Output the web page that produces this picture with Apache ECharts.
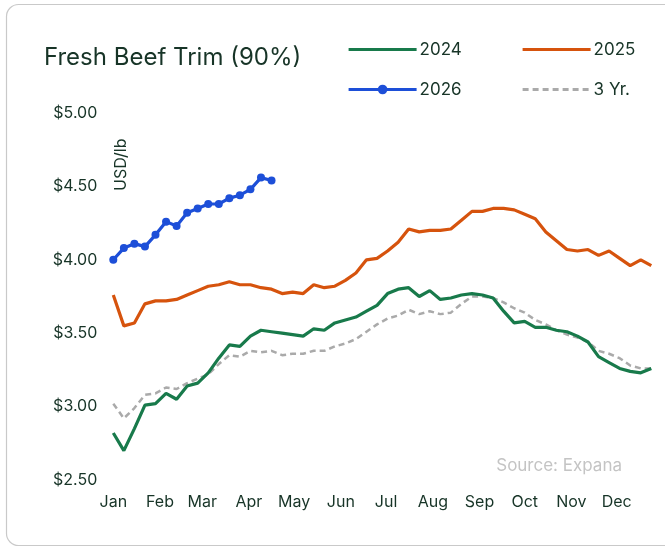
<!DOCTYPE html>
<html lang="en">
<head>
    <meta charset="UTF-8">
    <script src="https://cdn.jsdelivr.net/npm/echarts@6/dist/echarts.min.js"></script>
    <title>Fresh Beef Trim (90%)</title>
    <style>
        html, body { margin: 0; padding: 0; background: #fff; }
        #chart { width: 665px; height: 548px; }
    </style>
</head>
<body>
<div id="chart"></div>
<script>
    // month labels and the day of year each month starts on
    var months = ['Jan', 'Feb', 'Mar', 'Apr', 'May', 'Jun', 'Jul', 'Aug', 'Sep', 'Oct', 'Nov', 'Dec'];
    var monthStartDay = [0, 31, 59, 90, 120, 151, 181, 212, 243, 273, 304, 334];
    var yTicks = [2.5, 3.0, 3.5, 4.0, 4.5, 5.0];

    // weekly prices, USD/lb
    var y2024 = [2.82, 2.70, 2.85, 3.01, 3.02, 3.09, 3.05, 3.14, 3.16, 3.23, 3.33, 3.42, 3.41,
        3.48, 3.52, 3.51, 3.50, 3.49, 3.48, 3.53, 3.52, 3.57, 3.59, 3.61, 3.65, 3.69,
        3.77, 3.80, 3.81, 3.75, 3.79, 3.73, 3.74, 3.76, 3.77, 3.76, 3.74, 3.65, 3.57,
        3.58, 3.54, 3.54, 3.52, 3.51, 3.48, 3.44, 3.34, 3.30, 3.26, 3.24, 3.23, 3.26];
    var y2025 = [3.76, 3.55, 3.57, 3.70, 3.72, 3.72, 3.73, 3.76, 3.79, 3.82, 3.83, 3.85, 3.83,
        3.83, 3.81, 3.80, 3.77, 3.78, 3.77, 3.83, 3.81, 3.82, 3.86, 3.91, 4.00, 4.01,
        4.06, 4.12, 4.21, 4.19, 4.20, 4.20, 4.21, 4.27, 4.33, 4.33, 4.35, 4.35, 4.34,
        4.31, 4.28, 4.19, 4.13, 4.07, 4.06, 4.07, 4.03, 4.06, 4.01, 3.96, 4.00, 3.96];
    var y2026 = [4.00, 4.08, 4.11, 4.09, 4.17, 4.26, 4.23, 4.32, 4.35, 4.38, 4.38, 4.42, 4.44,
        4.48, 4.56, 4.54];
    var y3yr = [3.02, 2.92, 2.99, 3.08, 3.09, 3.13, 3.12, 3.16, 3.19, 3.22, 3.29, 3.35, 3.34,
        3.38, 3.37, 3.38, 3.35, 3.36, 3.36, 3.38, 3.38, 3.41, 3.43, 3.46, 3.51, 3.56,
        3.60, 3.62, 3.66, 3.63, 3.65, 3.63, 3.64, 3.70, 3.75, 3.75, 3.74, 3.71, 3.67,
        3.64, 3.59, 3.56, 3.52, 3.49, 3.47, 3.44, 3.38, 3.36, 3.33, 3.28, 3.26, 3.26];

    var textColor = '#173427';
    var font = 'Inter, "Noto Sans", sans-serif';

    // week index -> [week, value]
    function toPoints(arr) {
        return arr.map(function (v, i) { return [i, v]; });
    }

    var monthTicks = monthStartDay.map(function (d) { return d / 7; });

    var myChart = echarts.init(document.getElementById('chart'), null, { renderer: 'canvas' });

    // one legend per entry so each sits where the original has it
    function legendItem(name, left, top, showDot) {
        return {
            data: [name],
            left: left,
            top: top,
            itemWidth: 68,
            itemHeight: 12,
            itemGap: 0,
            selectedMode: false,
            lineStyle: { width: 3.2 },
            itemStyle: showDot ? {} : { opacity: 0 },
            textStyle: { color: textColor, fontSize: 17, fontFamily: font, padding: [0, 0, 0, -2] }
        };
    }

    var option = {
        backgroundColor: '#fff',
        animation: false,
        textStyle: { fontFamily: font },
        graphic: [
            {
                type: 'rect',
                shape: { x: 6.5, y: 4.5, width: 700, height: 541, r: 12 },
                style: { fill: 'none', stroke: '#c9c9c9', lineWidth: 1.2 },
                silent: true
            },
            {
                type: 'text',
                left: 44, top: 46,
                style: { text: 'Fresh Beef Trim (90%)', fill: textColor, font: '24px ' + font }
            },
            {
                type: 'text',
                x: 113, y: 191, rotation: Math.PI / 2,
                style: { text: 'USD/lb', fill: textColor, font: '16px ' + font }
            },
            {
                type: 'text',
                right: 43, top: 457,
                style: { text: 'Source: Expana', fill: '#c4c4c4', font: '17px ' + font }
            }
        ],
        legend: [
            legendItem('2024', 342, 36, false),
            legendItem('2025', 516, 36, false),
            legendItem('2026', 342, 76, true),
            legendItem('3 Yr.', 516, 76, false)
        ],
        grid: { left: 113.3, right: 13.7, top: 113, bottom: 68 },
        xAxis: {
            type: 'value',
            min: 0,
            max: 51,
            axisLine: { show: false },
            axisTick: { show: false },
            splitLine: { show: false },
            axisLabel: {
                customValues: monthTicks,
                color: textColor,
                fontSize: 16,
                fontFamily: font,
                margin: 14,
                formatter: function (v) {
                    var best = 0;
                    monthTicks.forEach(function (t, i) {
                        if (Math.abs(t - v) < Math.abs(monthTicks[best] - v)) best = i;
                    });
                    return months[best];
                }
            }
        },
        yAxis: {
            type: 'value',
            min: yTicks[0],
            max: yTicks[yTicks.length - 1],
            interval: 0.5,
            axisLine: { show: false },
            axisTick: { show: false },
            splitLine: { show: false },
            axisLabel: {
                color: textColor,
                fontSize: 16,
                fontFamily: font,
                margin: 16,
                formatter: function (v) { return '$' + v.toFixed(2); }
            }
        },
        series: [
            {
                name: '2024', type: 'line', data: toPoints(y2024), symbol: 'none',
                lineStyle: { color: '#187a4b', width: 3.2 }, itemStyle: { color: '#187a4b' }, z: 3
            },
            {
                name: '2025', type: 'line', data: toPoints(y2025), symbol: 'none',
                lineStyle: { color: '#d6530d', width: 3.2 }, itemStyle: { color: '#d6530d' }, z: 3
            },
            {
                name: '2026', type: 'line', data: toPoints(y2026), symbol: 'circle', symbolSize: 8,
                lineStyle: { color: '#1d4fd8', width: 3.2 }, itemStyle: { color: '#1d4fd8' }, z: 4
            },
            {
                name: '3 Yr.', type: 'line', data: toPoints(y3yr), symbol: 'none',
                lineStyle: { color: '#aaaaaa', width: 2.5, type: [6, 4] }, itemStyle: { color: '#aaaaaa' }, z: 2
            }
        ]
    };
    myChart.setOption(option);
</script>
</body>
</html>
